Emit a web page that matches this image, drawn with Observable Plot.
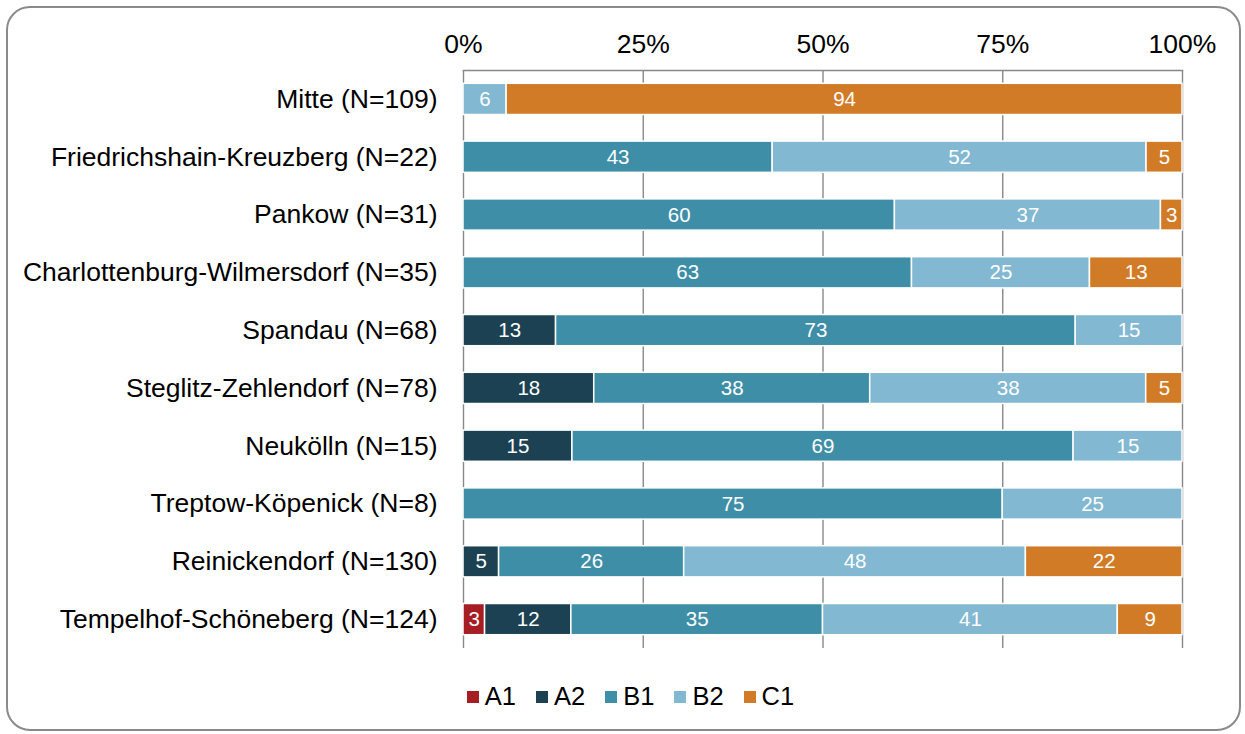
<!DOCTYPE html>
<html>
<head>
<meta charset="utf-8">
<script src="https://cdn.jsdelivr.net/npm/d3@7"></script>
<script src="https://cdn.jsdelivr.net/npm/@observablehq/plot@0.6"></script>
<style>
  html, body { margin: 0; padding: 0; background: #fff; }
  body { width: 1245px; height: 734px; position: relative; overflow: hidden; font-family: "Liberation Sans", Arial, sans-serif; }
  #frame { position: absolute; left: 6px; top: 6px; width: 1231px; height: 721px; border: 2px solid #8a8a8a; border-radius: 24px; box-sizing: content-box; }
  #chart { position: absolute; left: 0; top: 0; }
  #legend { position: absolute; left: 0; width: 1245px; top: 682px; display: flex; justify-content: center; padding-left: 16px; box-sizing: border-box; font-size: 25.5px; color: #000; }
  .item { display: flex; align-items: center; margin: 0 10px; }
  .sw { width: 12px; height: 12px; margin-right: 6px; }
</style>
</head>
<body>
<div id="frame"></div>
<div id="chart"></div>
<div id="legend"></div>
<script>
const districts = [
  "Mitte (N=109)",
  "Friedrichshain-Kreuzberg (N=22)",
  "Pankow (N=31)",
  "Charlottenburg-Wilmersdorf (N=35)",
  "Spandau (N=68)",
  "Steglitz-Zehlendorf (N=78)",
  "Neukölln (N=15)",
  "Treptow-Köpenick (N=8)",
  "Reinickendorf (N=130)",
  "Tempelhof-Schöneberg (N=124)"
];
const levels = ["A1", "A2", "B1", "B2", "C1"];
const levelColors = ["#a71d24", "#1b4153", "#3e8ea8", "#82b8d1", "#d27b27"];
const A1 = [0, 0, 0, 0, 0, 0, 0, 0, 0, 3];
const A2 = [0, 0, 0, 0, 13, 18, 15, 0, 5, 12];
const B1 = [0, 43, 60, 63, 73, 38, 69, 75, 26, 35];
const B2 = [6, 52, 37, 25, 15, 38, 15, 25, 48, 41];
const C1 = [94, 5, 3, 13, 0, 5, 0, 0, 22, 9];
const xTicks = [0, 0.25, 0.5, 0.75, 1];

const series = {A1, A2, B1, B2, C1};
const data = [];
districts.forEach((d, i) => {
  levels.forEach(l => {
    const v = series[l][i];
    if (v > 0) data.push({district: d, level: l, value: v});
  });
});

const chart = Plot.plot({
  width: 1245,
  height: 660,
  marginLeft: 463,
  marginRight: 63,
  marginTop: 70,
  marginBottom: 12,
  style: {fontFamily: "'Liberation Sans', Arial, sans-serif", fontSize: "26.5px", color: "#000", background: "transparent"},
  x: {domain: [0, 1], axis: "top", ticks: xTicks, tickFormat: d => Math.round(d * 100) + "%", tickSize: 0, tickPadding: 18, label: null},
  y: {domain: districts, paddingInner: 0.46, paddingOuter: 0.23, round: false, tickSize: 0, tickPadding: 26, label: null},
  color: {domain: levels, range: levelColors},
  marks: [
    Plot.gridX(xTicks, {stroke: "#888", strokeOpacity: 1, strokeWidth: 1.4}),
    Plot.frame({anchor: "top", stroke: "#888", strokeWidth: 1.4}),
    Plot.barX(data, Plot.stackX({x: "value", y: "district", fill: "level", z: "level", offset: "normalize", stroke: "white", strokeWidth: 1.5})),
    Plot.text(data, Plot.stackX({x: "value", y: "district", z: "level", text: d => String(d.value), offset: "normalize", fill: "white", fontSize: 20.5}))
  ]
});
document.getElementById("chart").appendChild(chart);

const legend = document.getElementById("legend");
levels.forEach((l, i) => {
  const item = document.createElement("div");
  item.className = "item";
  const sw = document.createElement("div");
  sw.className = "sw";
  sw.style.background = levelColors[i];
  const t = document.createElement("span");
  t.textContent = l;
  item.appendChild(sw);
  item.appendChild(t);
  legend.appendChild(item);
});
</script>
</body>
</html>
